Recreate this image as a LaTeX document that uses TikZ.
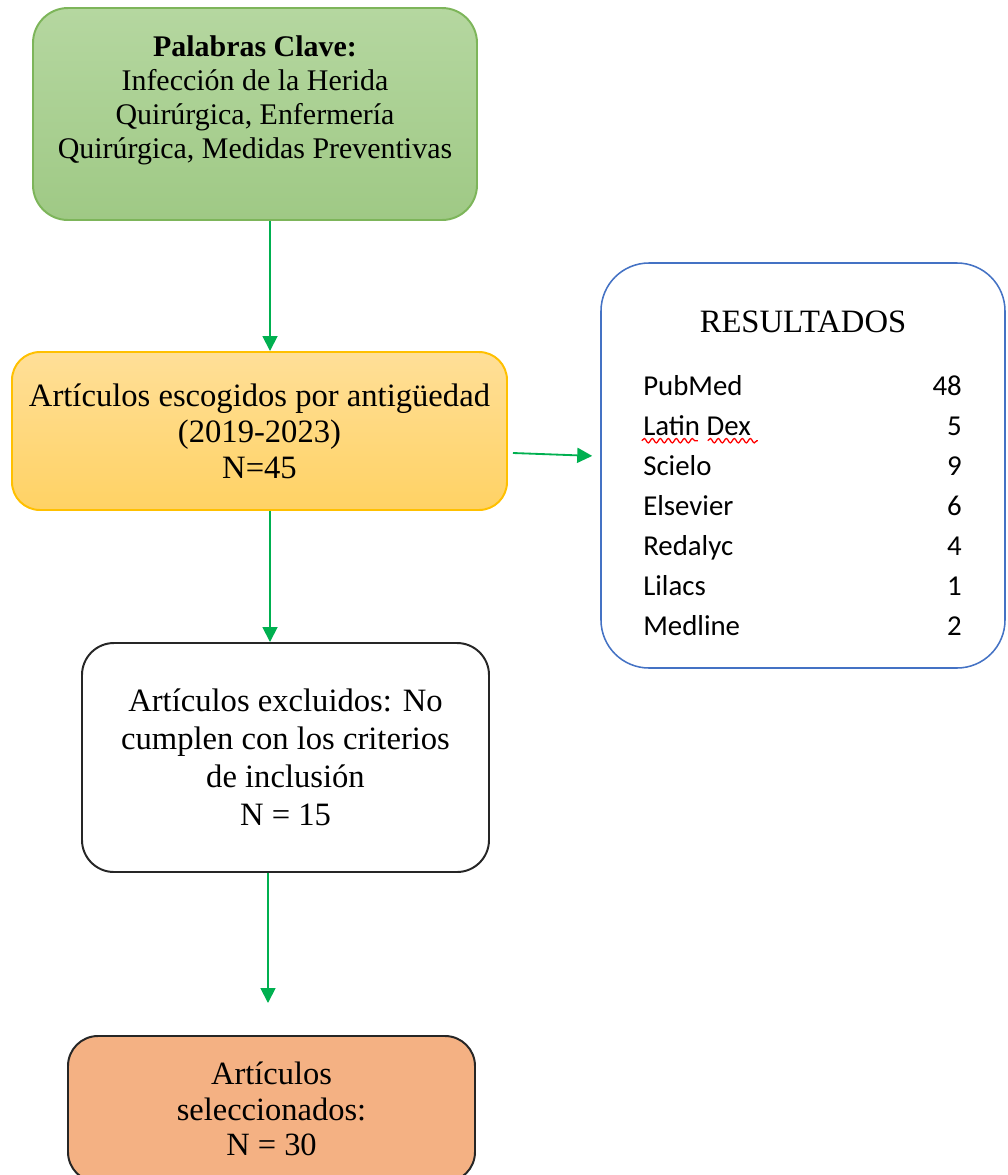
\documentclass[tikz,border=0pt]{standalone}
\usepackage{fontspec}
\setmainfont{Liberation Serif}
\setsansfont{Carlito}
\usetikzlibrary{arrows.meta,calc,decorations.pathmorphing}

\definecolor{arrowgreen}{HTML}{00B050}
\definecolor{keytop}{HTML}{B5D7A0}
\definecolor{keybottom}{HTML}{9FC985}
\definecolor{keyline}{HTML}{7DB55A}
\definecolor{periodtop}{HTML}{FFDF98}
\definecolor{periodbottom}{HTML}{FFD264}
\definecolor{periodline}{HTML}{FFC000}
\definecolor{resultline}{HTML}{4472C4}
\definecolor{selectfill}{HTML}{F4B183}

\begin{document}
\begin{tikzpicture}
                \tikzset{box/.style = {shape=rectangle, align=center, inner sep=0pt, line width=1.4pt}}
                \tikzset{edge/.style = {draw=arrowgreen, line width=1.3pt, -{Triangle[width=0.375cm,length=0.375cm]}}}
                \tikzset{entry/.style = {inner sep=0pt, font=\sffamily\fontsize{20.5}{24}\selectfont}}
                \tikzset{typo/.style = {red, line width=0.9pt, decorate, decoration={snake, amplitude=0.055cm, segment length=0.2cm}}}
                \useasboundingbox (0,0) rectangle (25.2,-29.375);

                \node[box, draw=keyline, top color=keytop, bottom color=keybottom, rounded corners=0.875cm,
                      minimum width=11.1cm, minimum height=5.3cm, font=\fontsize{21.3}{24.2}\selectfont]
                      (keys) at (6.375,-2.85)
                      {\textbf{Palabras Clave:}\\Infección de la Herida\\Quirúrgica, Enfermería\\Quirúrgica, Medidas Preventivas\\\mbox{}};
                \node[box, draw=periodline, top color=periodtop, bottom color=periodbottom, rounded corners=0.7cm,
                      minimum width=12.375cm, minimum height=3.95cm, font=\fontsize{23.2}{25.6}\selectfont]
                      (period) at (6.4875,-10.775)
                      {Artículos escogidos por antigüedad\\(2019-2023)\\N=45};
                \node[box, draw=resultline, fill=white, line width=1.1pt, rounded corners=1.2cm,
                      minimum width=10.1cm, minimum height=10.125cm] (results) at (20.075,-11.6375) {};
                \node[box, draw=black!85, fill=white, rounded corners=0.8cm,
                      minimum width=10.175cm, minimum height=5.725cm, font=\fontsize{23.2}{27}\selectfont]
                      (excluded) at (7.1375,-18.9375)
                      {Artículos excluidos: No\\cumplen con los criterios\\de inclusión\\N = 15};
                \node[box, draw=black!85, fill=selectfill, rounded corners=0.75cm,
                      minimum width=10.175cm, minimum height=3.65cm, font=\fontsize{23.1}{25.5}\selectfont]
                      (selected) at (6.7875,-27.725)
                      {Artículos\\seleccionados:\\N = 30};

                \node[inner sep=0pt, font=\fontsize{23.2}{26}\selectfont] (title) at (20.075,-8.05) {RESULTADOS};
                \node[entry, anchor=base west] (src1) at (16.075,-9.875) {PubMed};
                \node[entry, anchor=base east] (num1) at (24.05,-9.875) {48};
                \node[entry, anchor=base west] (src2) at (16.075,-10.875) {Latin Dex};
                \node[entry, anchor=base east] (num2) at (24.05,-10.875) {5};
                \node[entry, anchor=base west] (src3) at (16.075,-11.875) {Scielo};
                \node[entry, anchor=base east] (num3) at (24.05,-11.875) {9};
                \node[entry, anchor=base west] (src4) at (16.075,-12.875) {Elsevier};
                \node[entry, anchor=base east] (num4) at (24.05,-12.875) {6};
                \node[entry, anchor=base west] (src5) at (16.075,-13.875) {Redalyc};
                \node[entry, anchor=base east] (num5) at (24.05,-13.875) {4};
                \node[entry, anchor=base west] (src6) at (16.075,-14.875) {Lilacs};
                \node[entry, anchor=base east] (num6) at (24.05,-14.875) {1};
                \node[entry, anchor=base west] (src7) at (16.075,-15.875) {Medline};
                \node[entry, anchor=base east] (num7) at (24.05,-15.875) {2};

                \draw[typo] ($(src2.south west)+(-0.03,-0.13)$) -- ++(1.4,0);
                \draw[typo] ($(src2.south west)+(1.62,-0.13)$) -- ++(1.25,0);

                \coordinate (spine) at (6.75,0);
                \coordinate (tip) at (6.7,-25.075);

                \draw[edge] (keys.south -| spine) to (period.north -| spine);
                \draw[edge] ([shift={(0.125,-0.55)}]period.east) to ([shift={(-0.2,0.24)}]results.west);
                \draw[edge] (period.south -| spine) to (excluded.north -| spine);
                \draw[edge] (excluded.south -| tip) to (tip);
            \end{tikzpicture}
\end{document}
